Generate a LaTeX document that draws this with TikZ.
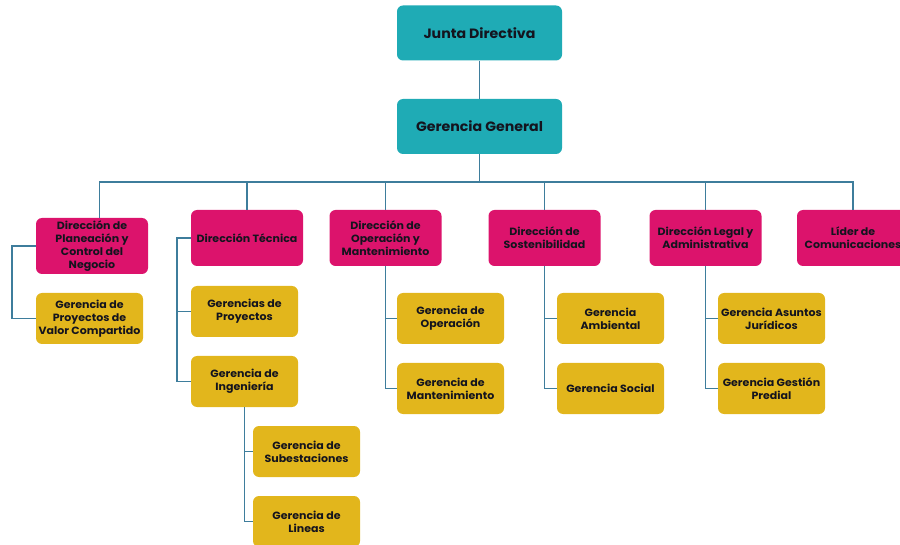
\documentclass[tikz,border=0pt]{standalone}
\usepackage{fontspec}
\setmainfont{Poppins}[FakeStretch=1.05]
\definecolor{teal}{RGB}{31,171,181}
\definecolor{magenta}{RGB}{220,19,108}
\definecolor{gold}{RGB}{226,182,28}
\definecolor{link}{RGB}{62,125,156}
\definecolor{ink}{RGB}{20,20,30}
\tikzset{
  box/.style={rounded corners=6pt, inner sep=0pt, align=center, text=ink,
    font=\bfseries\fontsize{10.5}{13}\selectfont},
  topbox/.style={box, fill=teal, minimum width=165pt, minimum height=55pt,
    font=\bfseries\fontsize{13.5}{15}\selectfont},
  dirbox/.style={box, fill=magenta, minimum width=112pt, minimum height=56pt},
  gerbox/.style={box, fill=gold, minimum width=107pt, minimum height=51pt},
  wire/.style={draw=link, line width=1.5pt}
}
\begin{document}
\begin{tikzpicture}[x=1pt,y=-1pt]
\useasboundingbox (0,0) rectangle (900,545);
\clip (0,0) rectangle (900,545);

% top levels
\node[topbox] (jd) at (479.5,33) {Junta Directiva};
\node[topbox] (gg) at (479.5,126.5) {Gerencia General};

% directions
\node[dirbox] (dp) at (92,246) {Dirección de\\Planeación y\\Control del\\Negocio};
\node[dirbox] (dt) at (247,238) {Dirección Técnica};
\node[dirbox] (dom) at (385.5,238) {Dirección de\\Operación y\\Mantenimiento};
\node[dirbox] (ds) at (544.5,238) {Dirección de\\Sostenibilidad};
\node[dirbox] (dl) at (705.5,238) {Dirección Legal y\\Administrativa};
\node[dirbox] (lc) at (853,238) {Líder de\\Comunicaciones};

% managements
\node[gerbox] (gpv) at (89.5,318.5) {Gerencia de\\Proyectos de\\Valor Compartido};
\node[gerbox] (gp) at (244.5,311.5) {Gerencias de\\Proyectos};
\node[gerbox] (gi) at (244.5,381.5) {Gerencia de\\Ingeniería};
\node[gerbox] (gsub) at (306.5,451.5) {Gerencia de\\Subestaciones};
\node[gerbox] (glin) at (306.5,521.5) {Gerencia de\\Lineas};
\node[gerbox] (gop) at (450.5,318.5) {Gerencia de\\Operación};
\node[gerbox] (gman) at (450.5,388.5) {Gerencia de\\Mantenimiento};
\node[gerbox] (gamb) at (610.5,318.5) {Gerencia\\Ambiental};
\node[gerbox] (gsoc) at (610.5,388.5) {Gerencia Social};
\node[gerbox] (gaj) at (771.5,318.5) {Gerencia Asuntos\\Jurídicos};
\node[gerbox] (ggp) at (771.5,388.5) {Gerencia Gestión\\Predial};

% connectors
\coordinate (bus) at (479.5,182);
\draw[wire] (jd.south) -- (gg.north);
\draw[wire] (gg.south) -- (bus);
\draw[wire] (dp.north -| 99.5,0) |- (bus) -| (lc.north -| 853,0);
\draw[wire] (dt.north) -- (dt.north |- bus);
\draw[wire] (dom.north) -- (dom.north |- bus);
\draw[wire] (ds.north) -- (ds.north |- bus);
\draw[wire] (dl.north) -- (dl.north |- bus);

\draw[wire] (dp.west) -- ++(-24,0) |- (gpv.west);
\draw[wire] (dt.west) -- ++(-14,0) |- (gi.west);
\draw[wire] (gp.west) -- ++(-14,0);
\draw[wire] (gi.south) |- (glin.west);
\draw[wire] (gi.south |- gsub.west) -- (gsub.west);
\draw[wire] (dom.south) |- (gman.west);
\draw[wire] (dom.south |- gop.west) -- (gop.west);
\draw[wire] (ds.south) |- (gsoc.west);
\draw[wire] (ds.south |- gamb.west) -- (gamb.west);
\draw[wire] (dl.south) |- (ggp.west);
\draw[wire] (dl.south |- gaj.west) -- (gaj.west);
\end{tikzpicture}
\end{document}
